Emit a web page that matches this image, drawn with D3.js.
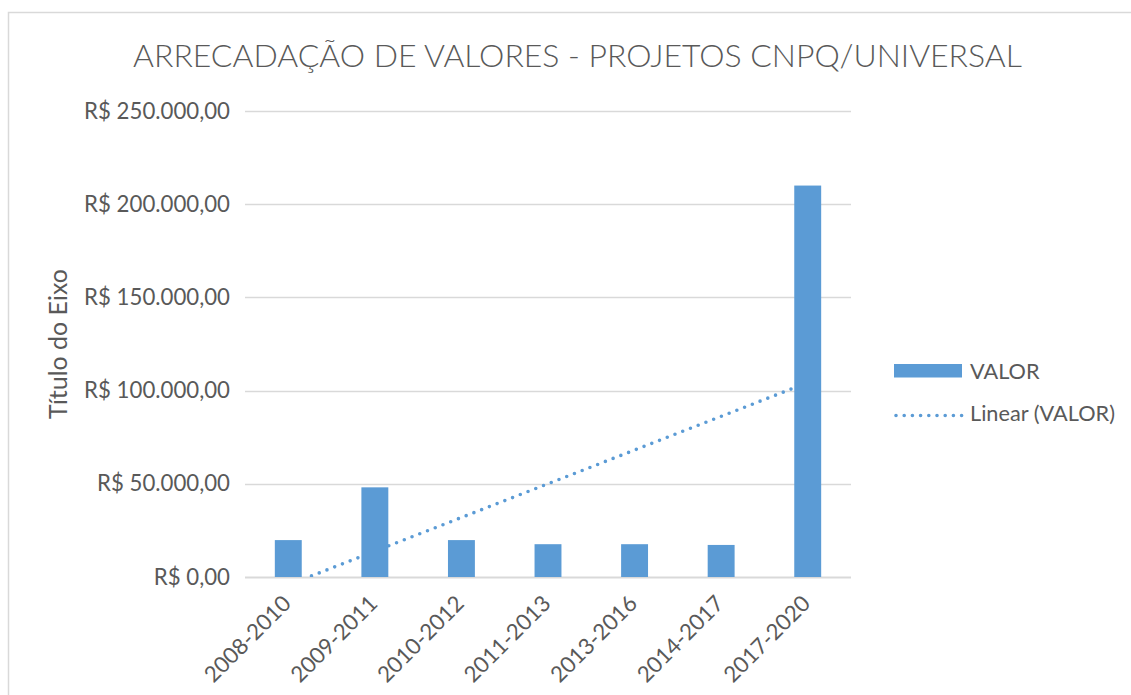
<!DOCTYPE html>
<html>
<head>
<meta charset="utf-8">
<script src="https://cdn.jsdelivr.net/npm/d3@7"></script>
<style>
  html, body { margin: 0; padding: 0; background: #fff; }
  svg { display: block; }
  text { font-family: Lato, "Open Sans", sans-serif; fill: #595959; }
</style>
</head>
<body>
<svg id="chart" width="1131" height="695"></svg>
<script>
const categories = ["2008-2010", "2009-2011", "2010-2012", "2011-2013", "2013-2016", "2014-2017", "2017-2020"];
const values = [19800, 48100, 19800, 17600, 17600, 17200, 210000];
const yTicks = [0, 50000, 100000, 150000, 200000, 250000];
const seriesName = "VALOR";
const trendName = "Linear (VALOR)";
const titleText = "ARRECADAÇÃO DE VALORES - PROJETOS CNPQ/UNIVERSAL";
const yAxisTitle = "Título do Eixo";

const color = "#5B9BD5";
const gridColor = "#D9D9D9";
const svg = d3.select("#chart");

// scale a text's font so its width matches a target width
function fit(sel, base, target) {
  sel.style("font-size", base + "px");
  const w = sel.node().getComputedTextLength();
  const s = base * target / w;
  sel.style("font-size", s + "px");
  return s;
}

// chart border
svg.append("rect").attr("x", 8.5).attr("y", 12.5).attr("width", 1200).attr("height", 800)
  .attr("fill", "none").attr("stroke", gridColor).attr("stroke-width", 1.5);

const x = d3.scaleBand().domain(categories).range([245, 851]).paddingInner(0.689).paddingOuter(0.3445);
const y = d3.scaleLinear().domain([0, 250000]).range([577, 111]);
const fmt = v => "R$ " + d3.format(",.2f")(v).replace(/,/g, "#").replace(/\./g, ",").replace(/#/g, ".");

// title
const title = svg.append("text").attr("x", 577.5).attr("y", 67).attr("text-anchor", "middle")
  .style("font-weight", 300).text(titleText);
fit(title, 30, 889);

// gridlines
svg.append("g").selectAll("line").data(yTicks).join("line")
  .attr("x1", 245).attr("x2", 851)
  .attr("y1", d => Math.round(y(d)) + 0.5).attr("y2", d => Math.round(y(d)) + 0.5)
  .attr("stroke", gridColor).attr("stroke-width", d => d === 0 ? 2 : 1.5);

// y tick labels
const probe = svg.append("text").text(fmt(250000));
const fs = fit(probe, 20, 146);
probe.remove();
svg.append("g").selectAll("text").data(yTicks).join("text")
  .attr("x", 230).attr("y", d => y(d) + 7.5).attr("text-anchor", "end")
  .style("font-size", fs + "px").text(d => fmt(d));

// y axis title
const yt = svg.append("text").attr("transform", "translate(67,344) rotate(-90)").attr("text-anchor", "middle")
  .text(yAxisTitle);
fit(yt, 20, 150);

// trendline (linear regression over the series), behind bars, clipped to plot area
const n = values.length;
const xs = d3.range(1, n + 1);
const mx = d3.mean(xs), my = d3.mean(values);
const slope = d3.sum(xs, (xi, i) => (xi - mx) * (values[i] - my)) / d3.sum(xs, xi => (xi - mx) ** 2);
const intercept = my - slope * mx;
svg.append("clipPath").attr("id", "plotclip").append("rect")
  .attr("x", 245).attr("y", 100).attr("width", 606).attr("height", 477);
const cx = i => x(categories[i]) + x.bandwidth() / 2;
svg.append("line")
  .attr("clip-path", "url(#plotclip)")
  .attr("x1", cx(0)).attr("y1", y(slope * 1 + intercept))
  .attr("x2", cx(n - 1)).attr("y2", y(slope * n + intercept))
  .attr("stroke", color).attr("stroke-width", 3.6).attr("stroke-linecap", "round")
  .attr("stroke-dasharray", "0,8.3");

// bars
svg.append("g").selectAll("rect").data(values).join("rect")
  .attr("x", (d, i) => x(categories[i])).attr("width", x.bandwidth())
  .attr("y", d => y(d)).attr("height", d => y(0) - y(d))
  .attr("fill", color);

// x labels
svg.append("g").selectAll("text").data(categories).join("text")
  .attr("transform", (d, i) => `translate(${cx(i) + 4},${605}) rotate(-45)`)
  .attr("text-anchor", "end")
  .style("font-size", fs + "px").text(d => d);

// legend
svg.append("rect").attr("x", 894).attr("y", 364).attr("width", 68).attr("height", 13.5).attr("fill", color);
const l1 = svg.append("text").attr("x", 970).attr("y", 378.5).text(seriesName);
const l2 = svg.append("text").attr("x", 970).attr("y", 421).text(trendName);
fit(l2, 20, 145);
l1.style("font-size", l2.style("font-size"));
svg.append("line").attr("x1", 896).attr("x2", 962).attr("y1", 415.5).attr("y2", 415.5)
  .attr("stroke", color).attr("stroke-width", 3.6).attr("stroke-linecap", "round")
  .attr("stroke-dasharray", "0,8.2");
</script>
</body>
</html>
